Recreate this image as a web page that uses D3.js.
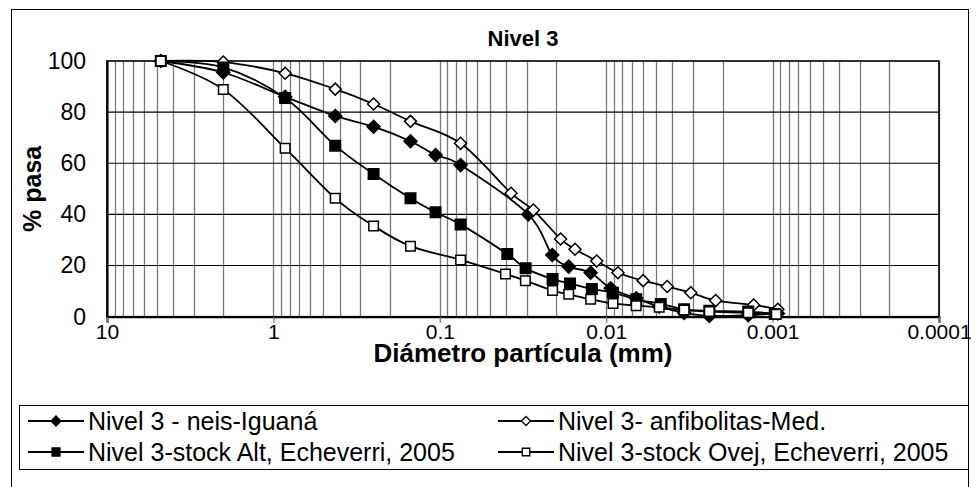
<!DOCTYPE html>
<html>
<head>
<meta charset="utf-8">
<script src="https://cdn.jsdelivr.net/npm/d3@7/dist/d3.min.js"></script>
<style>
  body { margin: 0; background: #fff; }
  text { font-family: "Liberation Sans", Arial, sans-serif; fill: #000; }
</style>
</head>
<body>
<svg id="chart" width="979" height="487"></svg>
<script>
// Grain-size distribution curves, level 3
const chartTitle = "Nivel 3";
const xTitle = "Diámetro partícula (mm)";
const yTitle = "% pasa";
const xTickValues = [10, 1, 0.1, 0.01, 0.001, 0.0001];
const xTickLabels = ["10", "1", "0.1", "0.01", "0.001", "0.0001"];
const yTickValues = [0, 20, 40, 60, 80, 100];

const seriesNames = [
  "Nivel 3 - neis-Iguaná",
  "Nivel 3- anfibolitas-Med.",
  "Nivel 3-stock Alt, Echeverri, 2005",
  "Nivel 3-stock Ovej, Echeverri, 2005"
];

// diameters (mm) and percent passing
const neisDiam = [4.75, 2.0, 0.85, 0.425, 0.25, 0.15, 0.106, 0.075, 0.0294, 0.0211, 0.0168, 0.0124, 0.0094, 0.0066, 0.0048, 0.0034, 0.0024, 0.0014, 0.00093];
const neisPass = [100, 95.5, 86.0, 78.5, 74.3, 68.6, 63.2, 59.3, 40.0, 24.1, 19.6, 17.2, 11.1, 7.2, 3.9, 1.5, 0.3, 0.6, 1.3];

const anfDiam = [4.75, 2.0, 0.85, 0.425, 0.25, 0.15, 0.075, 0.0373, 0.0274, 0.0188, 0.0154, 0.0114, 0.0085, 0.0060, 0.0043, 0.0031, 0.0022, 0.0013, 0.00093];
const anfPass = [100, 99.6, 95.2, 89.0, 83.2, 76.4, 67.8, 48.3, 41.7, 30.4, 26.4, 21.8, 17.2, 14.1, 11.8, 9.4, 6.3, 4.6, 2.9];

const altDiam = [4.75, 2.0, 0.85, 0.425, 0.25, 0.15, 0.106, 0.075, 0.0393, 0.0305, 0.0210, 0.0165, 0.0122, 0.0091, 0.0066, 0.0047, 0.0034, 0.0024, 0.0014, 0.00097];
const altPass = [100, 97.5, 85.5, 66.9, 55.8, 46.3, 40.8, 36.1, 24.5, 18.9, 14.7, 13.0, 10.8, 9.4, 6.8, 5.0, 2.9, 2.3, 2.0, 1.1];

const ovejDiam = [4.75, 2.0, 0.85, 0.425, 0.25, 0.15, 0.075, 0.0403, 0.0306, 0.0210, 0.0168, 0.0124, 0.0091, 0.0066, 0.0048, 0.0034, 0.0024, 0.0014, 0.00095];
const ovejPass = [100, 88.9, 65.9, 46.3, 35.5, 27.6, 22.2, 16.7, 14.1, 10.2, 8.8, 6.8, 5.2, 4.3, 3.7, 2.6, 2.0, 1.5, 1.0];

// custom marker shapes
const diamondShape = {
  draw(ctx, size) {
    const r = Math.sqrt(size / 2);
    ctx.moveTo(0, -r); ctx.lineTo(r, 0); ctx.lineTo(0, r); ctx.lineTo(-r, 0); ctx.closePath();
  }
};
const squareShape = {
  draw(ctx, size) {
    const h = Math.sqrt(size) / 2;
    ctx.moveTo(-h, -h); ctx.lineTo(h, -h); ctx.lineTo(h, h); ctx.lineTo(-h, h); ctx.closePath();
  }
};

const series = [
  { name: seriesNames[0], diam: neisDiam, pass: neisPass, shape: diamondShape, size: 2 * 6.5 * 6.5, fill: "#000", legendSize: 2 * 5 * 5 },
  { name: seriesNames[1], diam: anfDiam, pass: anfPass, shape: diamondShape, size: 2 * 6 * 6, fill: "#fff", legendSize: 2 * 4.5 * 4.5 },
  { name: seriesNames[2], diam: altDiam, pass: altPass, shape: squareShape, size: 10.5 * 10.5, fill: "#000", legendSize: 8 * 8 },
  { name: seriesNames[3], diam: ovejDiam, pass: ovejPass, shape: squareShape, size: 9.5 * 9.5, fill: "#fff", legendSize: 7.5 * 7.5 }
];

const svg = d3.select("#chart");
const W = 979, H = 487;
const plot = { left: 107, right: 939, top: 61, bottom: 316.7 };

svg.append("rect").attr("width", W).attr("height", H).attr("fill", "#fff");

// chart frame
svg.append("rect")
  .attr("x", 11.5).attr("y", 9.5)
  .attr("width", 957).attr("height", 500)
  .attr("fill", "none").attr("stroke", "#000").attr("stroke-width", 1);

const x = d3.scaleLog().domain([10, 0.0001]).range([plot.left, plot.right]);
const y = d3.scaleLinear().domain([0, 100]).range([plot.bottom, plot.top]);

// vertical minor/major gridlines (gray)
const gridX = [];
for (let e = -4; e <= 0; e++) {
  for (let m = 1; m <= 9; m++) gridX.push(m * Math.pow(10, e));
}
gridX.push(10);
svg.append("g")
  .selectAll("line").data(gridX).join("line")
  .attr("x1", d => Math.round(x(d)) + 0.5).attr("x2", d => Math.round(x(d)) + 0.5)
  .attr("y1", plot.top).attr("y2", plot.bottom)
  .attr("stroke", "#7a7a7a").attr("stroke-width", 1.3);

// horizontal gridlines (black)
svg.append("g")
  .selectAll("line").data(yTickValues.filter(v => v > 0 && v < 100)).join("line")
  .attr("x1", plot.left).attr("x2", plot.right)
  .attr("y1", d => y(d)).attr("y2", d => y(d))
  .attr("stroke", "#000").attr("stroke-width", 1.1);

// plot border
svg.append("rect")
  .attr("x", plot.left).attr("y", plot.top)
  .attr("width", plot.right - plot.left).attr("height", plot.bottom - plot.top)
  .attr("fill", "none").attr("stroke", "#000").attr("stroke-width", 1.6);

// x axis
const xAxis = d3.axisBottom(x)
  .tickValues(xTickValues)
  .tickFormat((d, i) => xTickLabels[i])
  .tickSize(6).tickPadding(1);
const gx = svg.append("g").attr("transform", `translate(0,${plot.bottom})`).call(xAxis);
gx.select(".domain").attr("stroke", "#000").attr("stroke-width", 2);
gx.selectAll(".tick line").attr("stroke", "#7a7a7a").attr("stroke-width", 1.3);
gx.selectAll(".tick text").attr("font-size", 21).attr("font-family", "Liberation Sans, Arial, sans-serif").attr("fill", "#000");

// y axis
const yAxis = d3.axisLeft(y).tickValues(yTickValues).tickSize(0).tickPadding(21);
const gy = svg.append("g").attr("transform", `translate(${plot.left},0)`).call(yAxis);
gy.select(".domain").attr("stroke", "#000").attr("stroke-width", 2);
gy.selectAll(".tick text").attr("font-size", 23).attr("font-family", "Liberation Sans, Arial, sans-serif").attr("fill", "#000");

// titles
svg.append("text")
  .attr("x", (plot.left + plot.right) / 2).attr("y", 46)
  .attr("text-anchor", "middle").attr("font-size", 22).attr("font-weight", "bold")
  .text(chartTitle);
svg.append("text")
  .attr("x", (plot.left + plot.right) / 2).attr("y", 362)
  .attr("text-anchor", "middle").attr("font-size", 26).attr("font-weight", "bold")
  .text(xTitle);
svg.append("text")
  .attr("transform", `translate(41,${(plot.top + plot.bottom) / 2}) rotate(-90)`)
  .attr("text-anchor", "middle").attr("font-size", 25).attr("font-weight", "bold")
  .text(yTitle);

// series lines and markers
const line = d3.line()
  .x(d => x(d[0])).y(d => y(d[1]))
  .curve(d3.curveCatmullRom.alpha(0));

series.forEach(s => {
  const pts = s.diam.map((d, i) => [d, s.pass[i]]);
  const g = svg.append("g");
  g.append("path").datum(pts)
    .attr("d", line).attr("fill", "none")
    .attr("stroke", "#000").attr("stroke-width", 1.8);
  g.selectAll("path.mk").data(pts).join("path")
    .attr("class", "mk")
    .attr("transform", d => `translate(${x(d[0])},${y(d[1])})`)
    .attr("d", d3.symbol().type(s.shape).size(s.size))
    .attr("fill", s.fill).attr("stroke", "#000").attr("stroke-width", 1.5);
});

// legend
const legend = svg.append("g");
legend.append("rect")
  .attr("x", 19.5).attr("y", 405.5).attr("width", 949).attr("height", 64)
  .attr("fill", "#fff").attr("stroke", "#000").attr("stroke-width", 1);
const colX = [28, 498];
const rowY = [421, 452];
series.forEach((s, i) => {
  const lx = colX[i % 2], ly = rowY[Math.floor(i / 2)];
  const g = legend.append("g").attr("transform", `translate(${lx},${ly})`);
  g.append("line").attr("x1", 0).attr("x2", 56).attr("y1", 0).attr("y2", 0)
    .attr("stroke", "#000").attr("stroke-width", 2);
  g.append("path").attr("transform", "translate(28,0)")
    .attr("d", d3.symbol().type(s.shape).size(s.legendSize))
    .attr("fill", s.fill).attr("stroke", "#000").attr("stroke-width", 1.3);
  g.append("text").attr("x", 60).attr("y", 9).attr("font-size", 25).text(s.name);
});
</script>
</body>
</html>
